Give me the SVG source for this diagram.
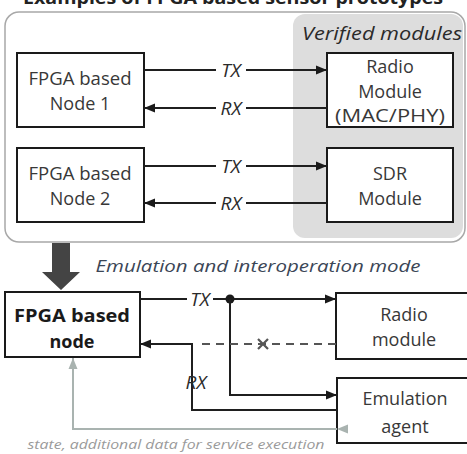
<svg xmlns="http://www.w3.org/2000/svg" width="467" height="454" viewBox="0 0 467 454">
<style>
.box{fill:#fff;stroke:#1a1a1a;stroke-width:2}
.t{font-family:"Open Sans","Liberation Sans",sans-serif;font-size:18px;fill:#383838;text-anchor:middle}
.b{font-weight:bold;fill:#1a1a1a;font-size:18px}
.lbl{font-family:"Open Sans","Liberation Sans",sans-serif;font-style:italic;font-size:19px;fill:#2a2a2a;text-anchor:middle}
.ln{fill:none;stroke:#1f1f1f;stroke-width:2}
</style>
<defs>
<marker id="ah" markerUnits="userSpaceOnUse" markerWidth="12" markerHeight="12" viewBox="0 0 12 12" refX="11" refY="6" orient="auto"><path d="M0,1.5 L11,6 L0,10.5 Z" fill="#1a1a1a"/></marker>
<marker id="ahg" markerUnits="userSpaceOnUse" markerWidth="12" markerHeight="12" viewBox="0 0 12 12" refX="11" refY="6" orient="auto"><path d="M0,1.5 L11,6 L0,10.5 Z" fill="#a9b3b0"/></marker>
</defs>
<rect width="467" height="454" fill="#fff"/>
<text x="233" y="4" font-family="Open Sans, Liberation Sans, sans-serif" font-weight="bold" font-size="18" fill="#222" text-anchor="middle" textLength="420" lengthAdjust="spacingAndGlyphs">Examples of FPGA based sensor prototypes</text>
<g id="prototypes">
<rect x="5" y="12" width="460" height="230" rx="14" fill="#fff" stroke="#a8a8a8" stroke-width="1.5"/>
</g>
<g id="verified">
<rect x="293" y="14" width="170" height="224" rx="12" fill="#dddddd"/>
<text x="382" y="40" class="lbl" font-size="17" textLength="160" lengthAdjust="spacingAndGlyphs">Verified modules</text>
</g>
<g id="node1"><rect class="box" x="17" y="53" width="127" height="74"/>
<text class="t" x="80" y="85" textLength="103" lengthAdjust="spacingAndGlyphs">FPGA based</text><text class="t" x="80" y="110">Node 1</text></g>
<g id="radio1"><rect class="box" x="327" y="53" width="126" height="74"/>
<text class="t" x="390" y="73">Radio</text><text class="t" x="390" y="98">Module</text><text class="t" x="390" y="122" textLength="110" lengthAdjust="spacingAndGlyphs">(MAC/PHY)</text></g>
<g id="node2"><rect class="box" x="17" y="148" width="127" height="74"/>
<text class="t" x="80" y="180" textLength="103" lengthAdjust="spacingAndGlyphs">FPGA based</text><text class="t" x="80" y="205">Node 2</text></g>
<g id="sdr"><rect class="box" x="327" y="148" width="126" height="74"/>
<text class="t" x="390" y="180">SDR</text><text class="t" x="390" y="205">Module</text></g>
<g id="bigarrow"><path d="M52,243 L70,243 L70,272 L80,272 L61,290 L42,272 L52,272 Z" fill="#444"/></g>
<text x="258" y="272" font-family="Open Sans, Liberation Sans, sans-serif" font-style="italic" font-size="17" fill="#3b4656" text-anchor="middle" textLength="325" lengthAdjust="spacingAndGlyphs">Emulation and interoperation mode</text>
<g id="fpganode"><rect class="box" x="5" y="292" width="135" height="65"/>
<text class="t b" x="72" y="322" textLength="116" lengthAdjust="spacingAndGlyphs">FPGA based</text><text class="t b" x="72" y="348">node</text></g>
<g id="radio2"><rect class="box" x="336" y="293" width="140" height="66"/>
<text class="t" x="404" y="321">Radio</text><text class="t" x="404" y="346">module</text></g>
<g id="agent"><rect class="box" x="337" y="378" width="140" height="65"/>
<text class="t" x="405" y="405">Emulation</text><text class="t" x="405" y="433">agent</text></g>
<g id="connectors">
<line class="ln" x1="144" y1="70" x2="216" y2="70"/><line class="ln" x1="246" y1="70" x2="327" y2="70" marker-end="url(#ah)"/>
<text class="lbl" x="231" y="77">TX</text>
<line class="ln" x1="327" y1="108" x2="246" y2="108"/><line class="ln" x1="216" y1="108" x2="144" y2="108" marker-end="url(#ah)"/>
<text class="lbl" x="231" y="115">RX</text>
<line class="ln" x1="144" y1="166" x2="216" y2="166"/><line class="ln" x1="246" y1="166" x2="327" y2="166" marker-end="url(#ah)"/>
<text class="lbl" x="231" y="173">TX</text>
<line class="ln" x1="327" y1="203" x2="246" y2="203"/><line class="ln" x1="216" y1="203" x2="144" y2="203" marker-end="url(#ah)"/>
<text class="lbl" x="231" y="210">RX</text>
<line class="ln" x1="140" y1="299" x2="187" y2="299"/><line class="ln" x1="213" y1="299" x2="336" y2="299" marker-end="url(#ah)"/>
<text class="lbl" x="200" y="306">TX</text>
<circle cx="230" cy="299" r="4.5" fill="#1a1a1a"/>
<path class="ln" d="M230,299 V395 H337" marker-end="url(#ah)"/>
<line x1="336" y1="344" x2="196" y2="344" stroke="#555" stroke-width="2" stroke-dasharray="8,6"/>
<path d="M258,339 L268,349 M268,339 L258,349" stroke="#555" stroke-width="2.2"/>
<path class="ln" d="M337,410 H192 V344 H140" marker-end="url(#ah)"/>
<text class="lbl" x="196" y="389">RX</text>
<path d="M337,429 H73 V358" fill="none" stroke="#a9b3b0" stroke-width="2" marker-end="url(#ahg)" marker-start="url(#ahg)"/>
</g>
<text x="176" y="449" font-family="Open Sans, Liberation Sans, sans-serif" font-style="italic" font-size="13" fill="#9a9a9a" text-anchor="middle" textLength="297" lengthAdjust="spacingAndGlyphs">state, additional data for service execution</text>
</svg>
